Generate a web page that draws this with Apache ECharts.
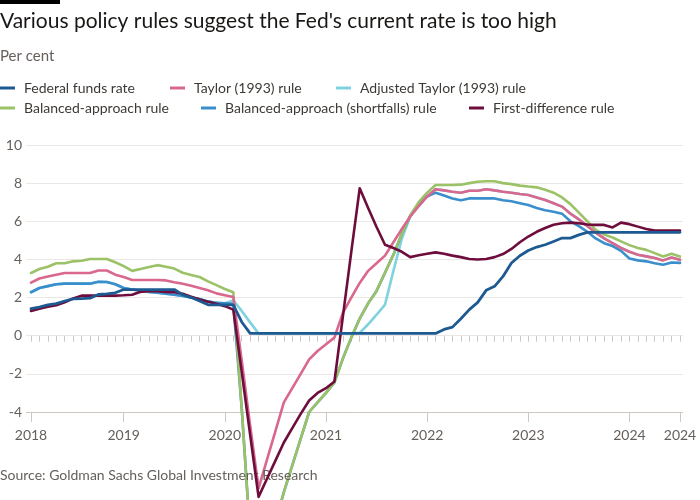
<!DOCTYPE html>
<html>
<head>
<meta charset="utf-8">
<script src="https://cdn.jsdelivr.net/npm/echarts@6/dist/echarts.min.js"></script>
<style>
html,body{margin:0;padding:0;background:#fff;}
#chart{width:700px;height:500px;}
</style>
</head>
<body>
<div id="chart"></div>
<script>
// Monthly categories, Feb 2018 – Jul 2024
const categories = [
'2018-02','2018-03','2018-04','2018-05','2018-06','2018-07','2018-08','2018-09','2018-10','2018-11','2018-12',
'2019-01','2019-02','2019-03','2019-04','2019-05','2019-06','2019-07','2019-08','2019-09','2019-10','2019-11','2019-12',
'2020-01','2020-02','2020-03','2020-04','2020-05','2020-06','2020-07','2020-08','2020-09','2020-10','2020-11','2020-12',
'2021-01','2021-02','2021-03','2021-04','2021-05','2021-06','2021-07','2021-08','2021-09','2021-10','2021-11','2021-12',
'2022-01','2022-02','2022-03','2022-04','2022-05','2022-06','2022-07','2022-08','2022-09','2022-10','2022-11','2022-12',
'2023-01','2023-02','2023-03','2023-04','2023-05','2023-06','2023-07','2023-08','2023-09','2023-10','2023-11','2023-12',
'2024-01','2024-02','2024-03','2024-04','2024-05','2024-06','2024-07'
];

// Tick labels on the x axis
const xLabelIndex = [0, 11, 23, 35, 47, 59, 71, 77];
const xLabels = ['2018', '2019', '2020', '2021', '2022', '2023', '2024', '2024'];
const yTicks = { min: -4, max: 10, step: 2 };

const seriesNames = [
  'Federal funds rate', 'Taylor (1993) rule', 'Adjusted Taylor (1993) rule',
  'Balanced-approach rule', 'Balanced-approach (shortfalls) rule', 'First-difference rule'
];

const fedFunds = [
1.42,1.5,1.62,1.68,1.82,1.93,1.95,1.97,2.16,2.19,2.25,
2.42,2.42,2.42,2.42,2.42,2.42,2.42,2.15,2.0,1.82,1.62,1.62,
1.62,1.62,0.72,0.12,0.12,0.12,0.12,0.12,0.12,0.12,0.12,0.12,
0.12,0.12,0.12,0.12,0.12,0.12,0.12,0.12,0.12,0.12,0.12,0.12,
0.12,0.12,0.33,0.45,0.89,1.37,1.75,2.38,2.59,3.11,3.81,4.19,
4.47,4.65,4.77,4.94,5.12,5.12,5.29,5.42,5.42,5.42,5.42,5.42,
5.42,5.42,5.42,5.42,5.42,5.42,5.42
];

const taylor = [
2.78,3.0,3.1,3.2,3.29,3.29,3.29,3.29,3.42,3.42,3.2,
3.08,2.92,2.92,2.92,2.92,2.9,2.8,2.72,2.62,2.5,2.38,2.22,
2.12,2.03,-1.3,-4.7,-8.0,-6.5,-5.0,-3.5,-2.75,-2.0,-1.24,-0.8,
-0.45,-0.1,1.2,2.0,2.77,3.4,3.8,4.2,4.9,5.6,6.25,6.8,
7.3,7.68,7.62,7.55,7.5,7.6,7.6,7.68,7.62,7.55,7.5,7.43,
7.38,7.25,7.12,6.95,6.77,6.4,6.1,5.75,5.4,5.1,4.85,4.6,
4.4,4.25,4.16,4.07,3.95,4.1,3.98
];

const adjustedTaylor = [
2.28,2.5,2.6,2.7,2.73,2.73,2.73,2.73,2.83,2.82,2.7,
2.5,2.42,2.36,2.3,2.25,2.2,2.15,2.08,2.0,1.92,1.8,1.72,
1.7,1.85,1.3,0.7,0.12,0.12,0.12,0.12,0.12,0.12,0.12,0.12,
0.12,0.12,0.12,0.12,0.15,0.6,1.1,1.63,3.4,5.1,6.25,6.8,
7.3,7.68,7.62,7.55,7.5,7.6,7.6,7.68,7.62,7.55,7.5,7.43,
7.38,7.25,7.12,6.95,6.77,6.4,6.1,5.75,5.4,5.1,4.85,4.6,
4.4,4.25,4.16,4.07,3.95,4.1,3.98
];

const balanced = [
3.29,3.5,3.62,3.8,3.8,3.9,3.93,4.02,4.02,4.02,3.85,
3.65,3.4,3.5,3.6,3.7,3.62,3.52,3.3,3.18,3.08,2.85,2.65,
2.45,2.28,-3.8,-10.5,-12.5,-11.5,-9.8,-8.2,-6.8,-5.4,-4.0,-3.5,
-3.0,-2.45,-1.2,-0.1,0.9,1.7,2.35,3.3,4.25,5.35,6.3,7.0,
7.5,7.9,7.9,7.9,7.92,8.0,8.07,8.1,8.1,8.0,7.95,7.87,
7.82,7.78,7.65,7.5,7.25,6.9,6.45,6.0,5.55,5.3,5.15,4.95,
4.75,4.6,4.5,4.33,4.15,4.3,4.15
];

const balancedShortfalls = [
2.28,2.5,2.6,2.7,2.73,2.73,2.73,2.73,2.83,2.82,2.7,
2.5,2.42,2.36,2.3,2.25,2.2,2.15,2.08,2.0,1.92,1.8,1.72,
1.7,1.68,-3.8,-10.5,-12.5,-11.5,-9.8,-8.2,-6.8,-5.4,-4.0,-3.5,
-3.0,-2.45,-1.2,-0.1,0.9,1.7,2.35,3.3,4.25,5.35,6.3,6.9,
7.3,7.5,7.35,7.2,7.1,7.2,7.2,7.2,7.2,7.1,7.05,6.95,
6.85,6.7,6.58,6.5,6.4,6.0,5.75,5.45,5.1,4.85,4.7,4.45,
4.05,3.95,3.9,3.8,3.72,3.84,3.82
];

const firstDifference = [
1.3,1.42,1.52,1.6,1.75,1.95,2.1,2.1,2.1,2.1,2.1,
2.12,2.15,2.3,2.35,2.33,2.3,2.28,2.2,2.05,1.9,1.78,1.68,
1.55,1.37,-1.9,-5.2,-8.45,-7.5,-6.55,-5.6,-4.85,-4.1,-3.4,-3.0,
-2.75,-2.4,1.0,4.4,7.73,6.7,5.7,4.77,4.6,4.4,4.12,4.22,
4.3,4.37,4.3,4.2,4.12,4.02,4.0,4.02,4.12,4.28,4.55,4.9,
5.2,5.45,5.65,5.82,5.9,5.93,5.9,5.83,5.81,5.81,5.68,5.93,
5.85,5.72,5.6,5.51,5.51,5.51,5.51
];

const colors = {
  fed: '#1d5a92', taylor: '#d9678e', adj: '#80d2de',
  bal: '#9bc266', short: '#3a8ecb', fd: '#6e0c3c'
};

const FONT = 'Lato, "Noto Sans", sans-serif';
const chart = echarts.init(document.getElementById('chart'));

const legendCommon = {
  orient: 'horizontal', padding: 0, icon: 'rect', itemWidth: 15, itemHeight: 3,
  selectedMode: false,
  textStyle: { fontSize: 14, color: '#3d3935', fontFamily: FONT, padding: [0, 0, 0, 4] }
};
const legendPos = [[0, 81], [170, 81], [336, 81], [0, 101], [201, 101], [469, 101]];

const lineSeries = (name, data, color, z, width) => ({
  name, type: 'line', data, xAxisIndex: 0, yAxisIndex: 0,
  showSymbol: false, symbol: 'none', clip: false, smooth: false,
  z, lineStyle: { color, width: width || 2.6, join: 'round', cap: 'round' },
  itemStyle: { color }, emphasis: { disabled: true }, animation: false
});

chart.setOption({
  animation: false,
  backgroundColor: '#ffffff',
  title: [
    { text: "Various policy rules suggest the Fed's current rate is too high", left: 0, top: 11, padding: 0,
      textStyle: { fontSize: 21, fontWeight: 'normal', color: '#1a1816', fontFamily: FONT } },
    { text: 'Per cent', left: 0, top: 49, padding: 0,
      textStyle: { fontSize: 15, fontWeight: 'normal', color: '#66605c', fontFamily: FONT } },
    { text: 'Source: Goldman Sachs Global Investment Research', left: 0, top: 468, padding: 0,
      textStyle: { fontSize: 14, fontWeight: 'normal', color: '#66605c', fontFamily: FONT } }
  ],
  graphic: [
    { type: 'rect', left: 0, top: 0, shape: { width: 60, height: 4 }, style: { fill: '#000' } }
  ],
  legend: legendPos.map((p, i) => Object.assign({}, legendCommon, { data: [seriesNames[i]], left: p[0], top: p[1] })),
  grid: [
    { left: 31, right: 20, top: 145, height: 267 },
    { left: 26, right: 17, top: 145, height: 267 }
  ],
  xAxis: [
    { type: 'category', gridIndex: 0, data: categories, boundaryGap: false,
      axisLine: { show: false },
      axisTick: { show: true, interval: 0, length: 6, lineStyle: { color: '#cfc8c2' } },
      axisLabel: { interval: (idx) => xLabelIndex.includes(idx),
        formatter: (v, idx) => xLabels[xLabelIndex.indexOf(idx)],
        margin: 16, fontSize: 14, color: '#66605c', fontFamily: FONT },
      splitLine: { show: false } },
    { type: 'category', gridIndex: 0, data: categories, boundaryGap: false, position: 'bottom',
      axisLine: { show: false },
      axisTick: { show: true, interval: (idx) => xLabelIndex.includes(idx), length: 10, lineStyle: { color: '#cfc8c2' } },
      axisLabel: { show: false }, splitLine: { show: false } },
    { type: 'value', gridIndex: 1, show: false }
  ],
  yAxis: [
    { type: 'value', gridIndex: 0, min: yTicks.min, max: yTicks.max, interval: yTicks.step, show: false },
    { type: 'value', gridIndex: 1, min: yTicks.min, max: yTicks.max, interval: yTicks.step,
      axisLine: { show: false }, axisTick: { show: false },
      axisLabel: { fontSize: 14, color: '#66605c', fontFamily: FONT, margin: 4 },
      splitLine: { show: true, lineStyle: { width: 1,
        color: ['#cfc8c2', '#ebe7e4', '#ebe7e4', '#ebe7e4', '#ebe7e4', '#ebe7e4', '#ebe7e4', '#ebe7e4'] } } }
  ],
  series: [
    lineSeries(seriesNames[2], adjustedTaylor, colors.adj, 2),
    lineSeries(seriesNames[4], balancedShortfalls, colors.short, 3),
    lineSeries(seriesNames[3], balanced, colors.bal, 4),
    lineSeries(seriesNames[1], taylor, colors.taylor, 5),
    lineSeries(seriesNames[5], firstDifference, colors.fd, 6),
    lineSeries(seriesNames[0], fedFunds, colors.fed, 7, 2.8)
  ]
});
</script>
</body>
</html>
